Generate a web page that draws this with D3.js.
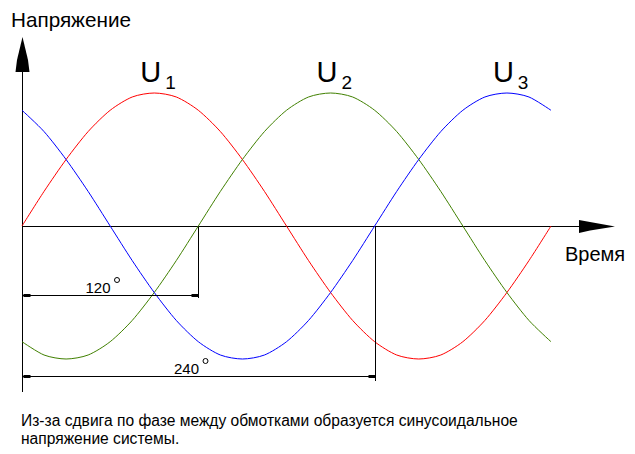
<!DOCTYPE html>
<html><head><meta charset="utf-8">
<script src="https://cdn.jsdelivr.net/npm/d3@7"></script>
<style>
html,body{margin:0;padding:0;background:#fff;}
svg{display:block;font-family:"Liberation Sans",Arial,sans-serif;}
</style></head>
<body>
<svg id="c" width="635" height="454"></svg>
<script>
// Phase angle (degrees), sampled every 15°
const angles = [0,15,30,45,60,75,90,105,120,135,150,165,180,195,210,225,240,255,270,285,300,315,330,345,360];
// Relative voltage of each winding
const u1 = [0,.26,.5,.71,.87,.97,1,.97,.87,.71,.5,.26,0,-.26,-.5,-.71,-.87,-.97,-1,-.97,-.87,-.71,-.5,-.26,0];
const u2 = [-.87,-.97,-1,-.97,-.87,-.71,-.5,-.26,0,.26,.5,.71,.87,.97,1,.97,.87,.71,.5,.26,0,-.26,-.5,-.71,-.87];
const u3 = [.87,.71,.5,.26,0,-.26,-.5,-.71,-.87,-.97,-1,-.97,-.87,-.71,-.5,-.26,0,.26,.5,.71,.87,.97,1,.97,.87];
const seriesNames = ["1","2","3"];
const seriesColors = ["#ff0000","#408000","#0000ff"];
// Phase-shift dimensions (degrees)
const shifts = [120, 240];
const shiftLabels = ["120","240"];
const yTitle = "Напряжение";
const xTitle = "Время";
const caption = ["Из-за сдвига по фазе между обмотками образуется синусоидальное","напряжение системы."];

const svg = d3.select("#c");
const x = d3.scaleLinear().domain([0,360]).range([22,551]);
const y = d3.scaleLinear().domain([-1,1]).range([359,93]);
const y0 = Math.round(y(0)) + 0.5;
const x0 = Math.round(x(0)) + 0.5;

// axes
svg.append("line").attr("x1",x0).attr("x2",580).attr("y1",y0).attr("y2",y0)
  .attr("stroke","#000").attr("stroke-width",1).attr("shape-rendering","crispEdges");
svg.append("line").attr("x1",x0).attr("x2",x0).attr("y1",392).attr("y2",70)
  .attr("stroke","#000").attr("stroke-width",1).attr("shape-rendering","crispEdges");
// arrow heads
svg.append("path").attr("d",`M579,220 L590,222 L615,${y0} L590,230.5 L579,233 Z`).attr("fill","#000");
svg.append("path").attr("d",`M15.5,72 L17,60 L${x0},37 L28,60 L29.5,72 Z`).attr("fill","#000");

// curves
const line = d3.line().x((d,i)=>x(angles[i])).y(d=>y(d)).curve(d3.curveCardinal.tension(0.2));
[u1,u2,u3].forEach((s,k)=>{
  svg.append("path").datum(s).attr("d",line).attr("fill","none")
    .attr("stroke",seriesColors[k]).attr("stroke-width",1);
});

// series labels at peaks
const peakAngles = [90,210,330];
peakAngles.forEach((a,k)=>{
  const t = svg.append("text").attr("x",x(a)-14).attr("y",82).attr("font-size",29).attr("fill","#000");
  t.append("tspan").text("U");
  t.append("tspan").attr("font-size",19).attr("dx",4).attr("dy",7).text(seriesNames[k]);
});

// phase-shift dimensions
const dimY = [295.5, 376.5];
const dimBottom = [298, 381];
shifts.forEach((s,k)=>{
  const xr = Math.round(x(s)) + 0.5;
  svg.append("line").attr("x1",xr).attr("x2",xr).attr("y1",y0).attr("y2",dimBottom[k])
    .attr("stroke","#000").attr("shape-rendering","crispEdges");
  svg.append("line").attr("x1",x0).attr("x2",xr).attr("y1",dimY[k]).attr("y2",dimY[k])
    .attr("stroke","#000").attr("shape-rendering","crispEdges");
  svg.append("rect").attr("x",x0+1).attr("y",dimY[k]-1.5).attr("width",7).attr("height",3).attr("fill","#000");
  svg.append("rect").attr("x",xr-7).attr("y",dimY[k]-1.5).attr("width",7).attr("height",3).attr("fill","#000");
  const cx = (x0 + xr)/2 - 12.5;
  svg.append("text").attr("x",cx).attr("y",dimY[k]-3).attr("text-anchor","middle")
    .attr("font-size",15).attr("fill","#000").text(shiftLabels[k]);
  svg.append("circle").attr("cx",cx+19).attr("cy",dimY[k]-15.5).attr("r",2.5)
    .attr("fill","none").attr("stroke","#000").attr("stroke-width",1);
});

// titles
svg.append("text").attr("x",11).attr("y",27).attr("font-size",20.7).attr("fill","#000").text(yTitle);
svg.append("text").attr("x",565).attr("y",261).attr("font-size",20).attr("fill","#000").text(xTitle);

// caption
caption.forEach((c,i)=>{
  svg.append("text").attr("x",21).attr("y",426+i*18).attr("font-size",15.6).attr("fill","#000").text(c);
});
</script>
</body></html>
